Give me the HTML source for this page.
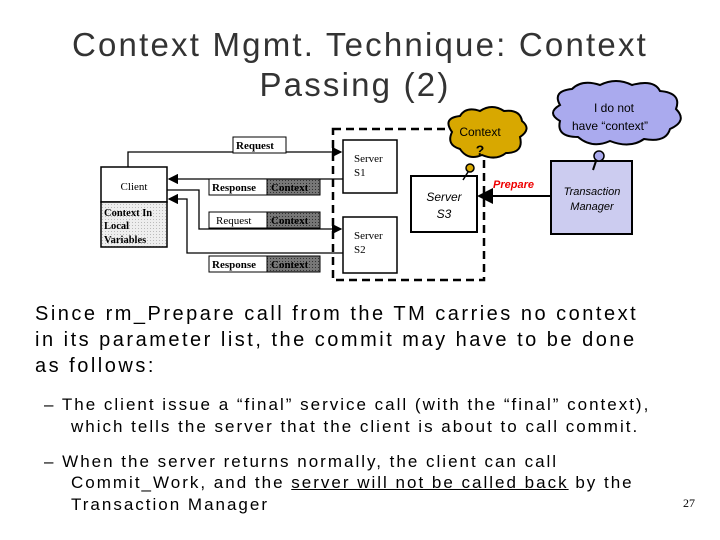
<!DOCTYPE html>
<html><head><meta charset="utf-8"><style>
body{margin:0;width:720px;height:540px;background:#fff;position:relative;overflow:hidden;font-family:"Liberation Sans",sans-serif}
.t{position:absolute;white-space:nowrap}
.title{font-size:33px;color:#333;left:0;width:720px;text-align:center;letter-spacing:2.2px}
.body{font-size:20px;color:#000;left:35px;letter-spacing:2.5px}
.b{font-size:17px;left:44px;letter-spacing:2px}
</style></head><body>
<div class="t title" style="top:26px">Context Mgmt. Technique: Context</div>
<div class="t title" style="top:66px;left:-5px">Passing (2)</div>
<svg style="position:absolute;left:0;top:0" width="720" height="300" font-family="Liberation Serif, serif">
<defs><marker id="a" markerWidth="8" markerHeight="8" refX="7" refY="4" orient="auto"><path d="M0,0 L8,4 L0,8z" fill="#000"/></marker>
<pattern id="g" width="3" height="3" patternUnits="userSpaceOnUse"><rect width="3" height="3" fill="#777"/><rect width="1" height="1" fill="#333"/></pattern>
<pattern id="l" width="3" height="3" patternUnits="userSpaceOnUse"><rect width="3" height="3" fill="#eee"/><rect width="1" height="1" fill="#bbb"/></pattern></defs>
<rect x="333" y="129" width="151" height="151" fill="none" stroke="#000" stroke-width="2.5" stroke-dasharray="8,5"/>
<g stroke="#000" stroke-width="1.3" fill="none">
<path d="M128,167 V152 H341" marker-end="url(#a)"/>
<path d="M343,179 H169" marker-end="url(#a)"/>
<path d="M167,190 H199 V229 H341" marker-end="url(#a)"/>
<path d="M343,253 H187 V199 H169" marker-end="url(#a)"/>
<path d="M551,196 H479" stroke-width="2" marker-end="url(#a)"/>
</g>
<rect x="101" y="167" width="66" height="35" fill="#fff" stroke="#000" stroke-width="1.5"/>
<text x="134" y="190" font-size="11" text-anchor="middle">Client</text>
<rect x="101" y="202" width="66" height="45" fill="url(#l)" stroke="#000" stroke-width="1.5"/>
<text x="104" y="216" font-size="10.5" font-weight="bold">Context In</text>
<text x="104" y="229" font-size="10.5" font-weight="bold">Local</text>
<text x="104" y="243" font-size="10.5" font-weight="bold">Variables</text>
<rect x="233" y="137" width="53" height="16" fill="#fff" stroke="#000"/><text x="236" y="149" font-size="11" font-weight="bold">Request</text>
<g font-size="11">
<rect x="209" y="179" width="58" height="16" fill="#fff" stroke="#000"/><text x="212" y="191" font-weight="bold">Response</text>
<rect x="267" y="179" width="53" height="16" fill="url(#g)" stroke="#000"/><text x="271" y="191" font-weight="bold">Context</text>
<rect x="209" y="212" width="58" height="16" fill="#fff" stroke="#000"/><text x="216" y="224">Request</text>
<rect x="267" y="212" width="53" height="16" fill="url(#g)" stroke="#000"/><text x="271" y="224" font-weight="bold">Context</text>
<rect x="209" y="256" width="58" height="16" fill="#fff" stroke="#000"/><text x="212" y="268" font-weight="bold">Response</text>
<rect x="267" y="256" width="53" height="16" fill="url(#g)" stroke="#000"/><text x="271" y="268" font-weight="bold">Context</text>
</g>
<rect x="343" y="140" width="54" height="53" fill="#fff" stroke="#000" stroke-width="1.5"/>
<text x="354" y="162" font-size="11">Server</text><text x="354" y="176" font-size="11">S1</text>
<rect x="343" y="217" width="54" height="56" fill="#fff" stroke="#000" stroke-width="1.5"/>
<text x="354" y="239" font-size="11">Server</text><text x="354" y="253" font-size="11">S2</text>
<rect x="411" y="176" width="66" height="56" fill="#fff" stroke="#000" stroke-width="2"/>
<text x="444" y="201" font-size="12" font-style="italic" text-anchor="middle" font-family="Liberation Sans">Server</text>
<text x="444" y="218" font-size="12" font-style="italic" text-anchor="middle" font-family="Liberation Sans">S3</text>
<rect x="551" y="161" width="81" height="73" fill="#ccccf0" stroke="#000" stroke-width="2"/>
<text x="592" y="195" font-size="11" font-style="italic" text-anchor="middle" font-family="Liberation Sans">Transaction</text>
<text x="592" y="210" font-size="11" font-style="italic" text-anchor="middle" font-family="Liberation Sans">Manager</text>
<text x="493" y="188" font-size="11" font-weight="bold" font-style="italic" fill="#e00" font-family="Liberation Sans">Prepare</text>
<path d="M452,132 q-10,-14 8,-16 q6,-10 20,-5 q12,-8 24,0 q16,-2 18,10 q10,8 -2,16 q4,16 -14,16 q-10,8 -24,2 q-14,6 -22,-6 q-14,-4 -8,-17z" fill="#d8a800" stroke="#000" stroke-width="2"/>
<text x="480" y="136" font-size="12" text-anchor="middle" font-family="Liberation Sans">Context</text>
<text x="480" y="155" font-size="14" font-weight="bold" text-anchor="middle" font-family="Liberation Sans">?</text>
<circle cx="470" cy="168" r="4" fill="#d8a800" stroke="#000" stroke-width="1.5"/>
<line x1="468" y1="172" x2="463" y2="180" stroke="#000" stroke-width="1.5"/>
<path d="M560,105 q-8,-14 12,-16 q10,-10 28,-4 q16,-8 32,0 q22,-6 28,6 q22,2 16,18 q12,12 -6,20 q-4,14 -26,10 q-14,10 -34,2 q-18,8 -32,-4 q-22,0 -18,-16 q-14,-8 0,-16z" fill="#aaaaee" stroke="#000" stroke-width="2"/>
<text x="614" y="112" font-size="12" text-anchor="middle" font-family="Liberation Sans">I do not</text>
<text x="610" y="130" font-size="12" text-anchor="middle" font-family="Liberation Sans">have “context”</text>
<circle cx="599" cy="156" r="5" fill="#aaaaee" stroke="#000" stroke-width="1.5"/>
<line x1="596" y1="161" x2="593" y2="170" stroke="#000" stroke-width="2"/>
</svg>
<div class="t body" style="top:303px">Since rm_Prepare call from the TM carries no context</div>
<div class="t body" style="top:329px">in its parameter list, the commit may have to be done</div>
<div class="t body" style="top:355px">as follows:</div>
<div class="t b" style="top:395px">–  The client issue a “final” service call (with the “final” context),</div>
<div class="t b" style="top:417px;left:71px">which tells the server that the client is about to call commit.</div>
<div class="t b" style="top:452px">–  When the server returns normally, the client can call</div>
<div class="t b" style="top:473px;left:71px">Commit_Work, and the <u>server will not be called back</u> by the</div>
<div class="t b" style="top:495px;left:71px">Transaction Manager</div>
<div class="t" style="top:496px;left:683px;font-size:12px;font-family:'Liberation Serif',serif">27</div>
</body></html>
